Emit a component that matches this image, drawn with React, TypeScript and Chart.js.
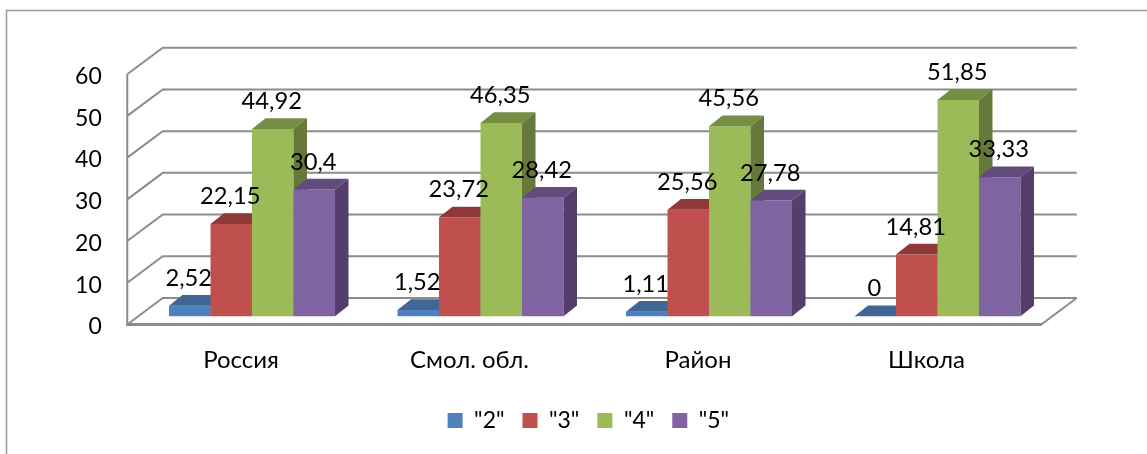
import React, { useEffect, useRef } from "react";
import { Chart, registerables } from "chart.js";

Chart.register(...registerables);

const categories = ["Россия", "Смол. обл.", "Район", "Школа"];
const grade2 = [2.52, 1.52, 1.11, 0];
const grade3 = [22.15, 23.72, 25.56, 14.81];
const grade4 = [44.92, 46.35, 45.56, 51.85];
const grade5 = [30.4, 28.42, 27.78, 33.33];
const seriesNames = ['"2"', '"3"', '"4"', '"5"'];
const FONT = "Lato, 'Open Sans', sans-serif";

const fronts = ["#4F81BD", "#C0504D", "#9BBB59", "#8064A2"];
const tops = ["#3F6695", "#8F3A38", "#768E43", "#624C7D"];
const sides = ["#365780", "#7E3331", "#67793A", "#533F6A"];
const GRID = "#8C8C8C";

const WALL_DX = 35.5, WALL_DY = 26.5;
const FRONT_DX = 10.5, FRONT_DY = 8.2;
const BAR_DX = 13.5, BAR_DY = 10.7;

const fmt = (v: number) => String(v).replace(".", ",");

const scene3d = {
  id: "scene3d",
  afterLayout(chart: any) {
    chart.legend.left += 62.5;
    chart.legend.right += 62.5;
  },
  beforeDraw(chart: any) {
    const { ctx, width, height } = chart;
    ctx.save();
    ctx.fillStyle = "#fff";
    ctx.fillRect(0, 0, width, height);
    ctx.strokeStyle = "#999";
    ctx.lineWidth = 1.5;
    ctx.beginPath();
    ctx.moveTo(6.5, height);
    ctx.lineTo(6.5, 10.5);
    ctx.lineTo(width, 10.5);
    ctx.stroke();
    ctx.restore();
  },
  beforeDatasetsDraw(chart: any) {
    const { ctx, chartArea } = chart;
    const y = chart.scales.y;
    const fl = chartArea.left - FRONT_DX;
    const fr = chartArea.right - FRONT_DX;
    ctx.save();
    ctx.strokeStyle = GRID;
    ctx.lineWidth = 2;
    ctx.beginPath();
    for (const t of y.ticks) {
      const py = y.getPixelForValue(t.value) + FRONT_DY;
      ctx.moveTo(fl, py);
      ctx.lineTo(fl + WALL_DX, py - WALL_DY);
      ctx.lineTo(fr + WALL_DX, py - WALL_DY);
    }
    const y0 = y.getPixelForValue(0) + FRONT_DY;
    const y60 = y.getPixelForValue(y.max) + FRONT_DY;
    ctx.moveTo(fl, y60);
    ctx.lineTo(fl, y0);
    ctx.lineTo(fr, y0);
    ctx.lineTo(fr + WALL_DX, y0 - WALL_DY);
    ctx.stroke();
    ctx.lineWidth = 3;
    ctx.beginPath();
    ctx.moveTo(fl - 1, y0);
    ctx.lineTo(fr, y0);
    ctx.stroke();
    ctx.restore();
  },
  // The library draws the last series first; a 3D row needs the first one first.
  beforeDatasetDraw() {
    return false;
  },
  afterDatasetsDraw(chart: any) {
    const { ctx } = chart;
    ctx.save();
    chart.data.datasets.forEach((_: any, i: number) => {
      const meta = chart.getDatasetMeta(i);
      meta.controller.draw();
      for (const bar of meta.data) {
        const p = bar.getProps(["x", "y", "base", "width"], true);
        const l = p.x - p.width / 2;
        const r = p.x + p.width / 2;
        ctx.fillStyle = tops[i];
        ctx.beginPath();
        ctx.moveTo(l, p.y);
        ctx.lineTo(l + BAR_DX, p.y - BAR_DY);
        ctx.lineTo(r + BAR_DX, p.y - BAR_DY);
        ctx.lineTo(r, p.y);
        ctx.closePath();
        ctx.fill();
        ctx.fillStyle = sides[i];
        ctx.beginPath();
        ctx.moveTo(r, p.y);
        ctx.lineTo(r + BAR_DX, p.y - BAR_DY);
        ctx.lineTo(r + BAR_DX, p.base - BAR_DY);
        ctx.lineTo(r, p.base);
        ctx.closePath();
        ctx.fill();
      }
    });
    ctx.font = `23.7px ${FONT}`;
    ctx.fillStyle = "#000";
    ctx.textAlign = "center";
    ctx.textBaseline = "middle";
    chart.data.datasets.forEach((ds: any, di: number) => {
      chart.getDatasetMeta(di).data.forEach((bar: any, k: number) => {
        const p = bar.getProps(["x", "y"], true);
        ctx.fillText(fmt(ds.data[k]), p.x - 1, p.y - 27.5);
      });
    });
    ctx.restore();
  },
};

export default function App() {
  const ref = useRef<HTMLCanvasElement>(null);
  useEffect(() => {
    const series = [grade2, grade3, grade4, grade5];
    const chart = new Chart(ref.current!, {
      type: "bar",
      data: {
        labels: categories,
        datasets: series.map((data, i) => ({
          label: seriesNames[i],
          data,
          backgroundColor: fronts[i],
          borderWidth: 0,
        })),
      },
      options: {
        responsive: false,
        animation: false,
        categoryPercentage: 0.7265,
        barPercentage: 1,
        layout: { padding: { left: 0, right: 95.25, top: 66, bottom: 12 } },
        plugins: {
          tooltip: { enabled: false },
          title: { display: false },
          legend: {
            position: "bottom",
            labels: {
              boxWidth: 15,
              boxHeight: 15,
              padding: 18,
              color: "#000",
              font: { family: FONT, size: 23 },
            },
          },
        },
        scales: {
          x: {
            grid: { display: false, drawTicks: false },
            border: { display: false },
            ticks: {
              color: "#000",
              font: { family: FONT, size: 24 },
              labelOffset: -11,
              padding: 30,
              maxRotation: 0,
              autoSkip: false,
            },
            afterFit: (s: any) => { s.height = 74.7; },
          },
          y: {
            min: 0,
            max: 60,
            grid: { display: false, drawTicks: false },
            border: { display: false },
            ticks: {
              stepSize: 10,
              color: "#000",
              font: { family: FONT, size: 23 },
              labelOffset: 10.5,
              padding: 36,
            },
            afterFit: (s: any) => { s.width = 137.75; },
          },
        },
      },
      plugins: [scene3d],
    } as any);
    return () => chart.destroy();
  }, []);
  return (
    <div style={{ position: "absolute", left: 0, top: 0, width: 1147, height: 454 }}>
      <canvas ref={ref} width={1147} height={454} style={{ display: "block" }} />
    </div>
  );
}
